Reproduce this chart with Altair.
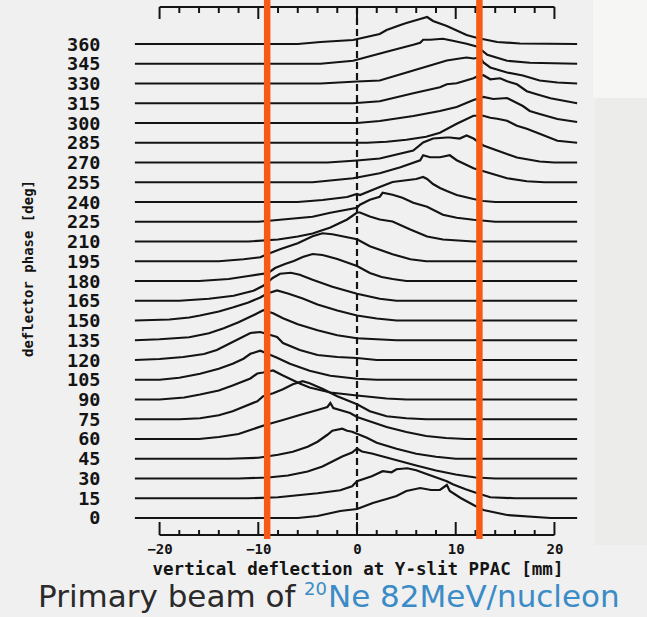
import altair as alt
import pandas as pd

# ---- data (x in mm, h = peak height in "counts") ----
phases = list(range(0, 361, 15))

trace_000 = [(-22.5,0),(-6,0),(-4,2),(-1.7,7),(0,9),(1.6,15),(3,19),(4,22),(5,27),(6.4,30),(7.5,28),(8.4,28),(9.1,33),(9.4,27),(10.5,20),(11.8,13),(12.8,8),(15.2,3),(19.6,0),(22.3,0)]
trace_015 = [(-22.5,0),(-11,0),(-8,1),(-6,3),(-4,5),(-1.7,8),(-0.5,12),(0,17),(1.5,22),(2.6,27),(3.5,26),(4,29),(5.1,30),(6,28),(7.4,23),(9.1,17),(9.7,14),(11,9),(12.2,5),(13.5,1),(16,0),(22.3,0)]
trace_030 = [(-22.5,0),(-12,0),(-9,1),(-7,3),(-5,7),(-3.5,12),(-2.5,17),(-1.5,22),(-0.5,26),(0,30),(0.5,27),(1.5,25),(3,21),(4.5,17),(6,13),(8,8),(10,4),(12,1),(14,0),(22.3,0)]
trace_045 = [(-22.5,0),(-13,0),(-10,1),(-8,4),(-6.5,7),(-5,12),(-4,17),(-3,24),(-2.5,28),(-1.5,30),(-1,28),(-0.5,27),(0,25),(1,21),(2,16),(4,10),(6,5),(8,2),(10,0),(22.3,0)]
trace_060 = [(-22.5,0),(-16,0),(-14,2),(-12,5),(-10.8,9),(-9.3,14),(-7.5,19),(-5.8,24),(-4,29),(-3,32),(-2.7,36),(-2.4,31),(-0.7,26),(0,22),(1.5,17),(3,12),(5,7),(7,3),(9,1),(11,0),(22.3,0)]
trace_075 = [(-22.5,0),(-18,0),(-15.9,1),(-14,4),(-12.6,8),(-10.1,18),(-9.5,23),(-8.5,26),(-7.5,30),(-6.5,35),(-5.5,38),(-4.8,36),(-3.4,30),(-2,23),(0,15),(1.3,8),(3,3),(5,1),(7,0),(22.3,0)]
trace_090 = [(-22.5,0),(-20,0),(-17.5,2),(-15.9,5),(-14,9),(-12.6,14),(-10.8,21),(-10.1,26),(-9.5,27),(-8.5,29),(-7.5,24),(-5.8,16),(-4.8,12),(-2.7,7),(0,4),(3,1),(5,0),(22.3,0)]
trace_105 = [(-22.5,0),(-20,0),(-18,2),(-15.9,6),(-14,11),(-12.6,16),(-11.5,21),(-10.8,26),(-9.8,29),(-9.3,27),(-8.1,22),(-6.8,16),(-4.8,9),(-2.7,4),(0,1),(2,0),(22.3,0)]
trace_120 = [(-22.5,0),(-20,1),(-17.6,3),(-15.5,6),(-14.2,10),(-12.6,18),(-10.8,27),(-9.8,28),(-8.1,23),(-7.5,17),(-5.8,10),(-4,5),(-2,3),(0,2),(2,0),(22.3,0)]
trace_135 = [(-22.5,0),(-20,1),(-17,3),(-15,7),(-13.5,12),(-12,18),(-10.5,25),(-9.5,30),(-8.5,27),(-7.5,22),(-6,16),(-4,10),(-2,5),(0,2),(2,1),(4,0),(22.3,0)]
trace_150 = [(-22.5,0),(-19,1),(-17,3),(-15.9,5),(-14,9),(-12.6,13),(-11,18),(-9.8,23),(-9.1,27),(-8.1,30),(-7,27),(-5.5,22),(-4,16),(-2,10),(0,5),(2,2),(4,0),(22.3,0)]
trace_165 = [(-22.5,0),(-18,0),(-15,2),(-12.5,5),(-10.5,10),(-9.5,15),(-8.5,23),(-7.8,27),(-6.7,28),(-5.8,26),(-4.5,21),(-2.5,14),(0,7),(2.3,2),(4,0),(22.3,0)]
trace_180 = [(-22.5,0),(-16,0),(-13,2),(-11,5),(-9,8),(-8.3,13),(-7.3,17),(-6.4,20),(-5.5,24),(-4.5,27),(-3.5,26),(-2,22),(0,15),(1.3,8),(2.5,4),(3.6,2),(5,0),(22.3,0)]
trace_195 = [(-22.5,0),(-14,0),(-11.5,2),(-9.8,4),(-9.1,7),(-7.8,12),(-6,18),(-4.5,25),(-3.5,28),(-2.5,27),(-1.5,25),(0,22),(1.3,15),(3.6,7),(5.4,2),(7,0),(22.3,0)]
trace_210 = [(-22.5,0),(-11,0),(-8,2),(-6,5),(-4.5,8),(-2.7,14),(-1,22),(0,29),(0.3,29),(1.3,25),(2.3,22),(3.6,20),(5.4,12),(7.1,5),(8.7,2),(11.8,0),(22.3,0)]
trace_225 = [(-22.5,0),(-10,0),(-7.8,2),(-4.5,5),(-2.7,9),(0,14),(0.3,17),(1.3,22),(2.3,25),(2.6,29),(3.6,27),(4.6,24),(5.7,19),(7.1,15),(8.7,7),(10.1,4),(11.8,2),(14,0),(22.3,0)]
trace_240 = [(-22.5,0),(-6,0),(-3.5,2),(-1,5),(0,8),(0.3,7),(2.3,15),(3.6,20),(6,23),(6.7,25),(7.1,23),(7.7,18),(8.4,14),(9.1,11),(10.1,7),(11.8,3),(12.8,1),(14,0),(22.3,0)]
trace_255 = [(-22.5,0),(-4.5,0),(-0.4,4),(2.3,9),(4.4,15),(6.4,22),(6.7,27),(7.4,25),(8.4,25),(9.4,27),(10.1,22),(11.8,14),(13.5,9),(15.2,4),(17.2,1),(19,0),(22.3,0)]
trace_270 = [(-22.5,0),(-3,0),(0,2),(2.3,4),(5.7,12),(6.7,20),(7.7,24),(9.1,25),(9.4,25),(10.4,24),(11.1,27),(11.8,24),(12.8,17),(14.2,12),(16.2,5),(18.5,1),(20,0),(22.3,0)]
trace_285 = [(-22.5,0),(1,0),(3,1),(5,3),(7,6),(8.4,10),(10.1,19),(11.8,27),(12.8,27),(13.5,25),(14.2,24),(15.2,22),(16.2,17),(17.2,14),(18.5,9),(20.3,2),(22.3,0)]
trace_300 = [(-22.5,0),(0,0),(2.3,2),(5.7,7),(8.4,12),(10.1,16),(11.8,23),(12.8,26),(13.8,24),(15.2,25),(15.8,22),(16.8,17),(17.5,12),(18.5,9),(20.3,4),(22.3,1)]
trace_315 = [(-22.5,0),(-0.4,0),(2.3,2),(5.7,10),(8.4,16),(9.1,19),(10.1,20),(11.8,25),(12.2,27),(12.8,28),(13.5,24),(14.5,25),(15.2,22),(16.2,19),(17.2,12),(18.2,9),(19.6,5),(22.3,0)]
trace_330 = [(-22.5,0),(-3.7,0),(0,2),(2.3,3),(5.7,13),(9.1,23),(10.4,25),(11.1,26),(11.8,25),(12.5,26),(12.8,21),(13.5,16),(15.2,11),(16.8,8),(18.5,3),(20.3,1),(22.3,0)]
trace_345 = [(-22.5,0),(-3.7,0),(-0.4,3),(3,12),(5.7,19),(6.4,21),(6.7,24),(7.4,24),(8.7,25),(9.2,24),(9.7,23),(11.1,20),(12.2,17),(13.2,9),(15.2,3),(17.5,1),(22.3,0)]
trace_360 = [(-22.5,0),(-6,0),(-3.7,2),(-0.4,4),(2.3,10),(3,14),(4.4,19),(5,21),(6.4,25),(7.1,27),(7.7,23),(9.1,18),(11.1,9),(12.2,6),(14.2,2),(16.5,0.5),(22.3,0)]

traces = [trace_000, trace_015, trace_030, trace_045, trace_060, trace_075, trace_090,
          trace_105, trace_120, trace_135, trace_150, trace_165, trace_180, trace_195,
          trace_210, trace_225, trace_240, trace_255, trace_270, trace_285, trace_300,
          trace_315, trace_330, trace_345, trace_360]

slit_lines = [-9.1, 12.4]          # orange markers (mm)
major_ticks = [-20, -10, 0, 10, 20]
minor_ticks = [-18, -16, -14, -12, -8, -6, -4, -2, 2, 4, 6, 8, 12, 14, 16, 18]
phase_labels = list(range(0, 361, 15))

COUNT_TO_DEG = 15 / 19.75  # vertical size of one count in phase units

rows = []
for ph, tr in zip(phases, traces):
    for i, (xv, hv) in enumerate(tr):
        rows.append({"phase": ph, "x": xv, "y": ph + hv * COUNT_TO_DEG, "i": i})
df = pd.DataFrame(rows)

W, H = 445, 540
XDOM = [-22.49, 22.59]
YDOM = [-16.71, 393.42]
MONO = "DejaVu Sans Mono"
INK = "#141414"

xscale = alt.Scale(domain=XDOM, nice=False, zero=False)
yscale = alt.Scale(domain=YDOM, nice=False, zero=False)

lines = alt.Chart(df).mark_line(color=INK, strokeWidth=2.2, interpolate="linear").encode(
    x=alt.X("x:Q", scale=xscale,
            axis=alt.Axis(values=major_ticks, ticks=False, domain=False, grid=False,
                          labelFont=MONO, labelFontWeight="bold", labelFontSize=14,
                          labelColor=INK, labelPadding=2, format="d",
                          title="vertical deflection at Y-slit PPAC [mm]",
                          titleFont=MONO, titleFontWeight="bold", titleFontSize=17.5,
                          titleColor=INK, titleY=29, titleBaseline="middle")),
    y=alt.Y("y:Q", scale=yscale,
            axis=alt.Axis(values=phase_labels, ticks=False, domain=False, grid=False,
                          labelFont=MONO, labelFontWeight="bold", labelFontSize=18.5,
                          labelColor=INK, labelPadding=35,
                          title="deflector phase [deg]",
                          titleFont=MONO, titleFontWeight="bold", titleFontSize=14,
                          titleColor=INK, titleX=-107, titleY=268,
                          titleBaseline="middle", titleAlign="center")),
    detail="phase:N",
    order="i:Q",
)

zero_df = pd.DataFrame({"x": [0]})
dashed = alt.Chart(zero_df).mark_rule(color=INK, strokeWidth=2.2, strokeDash=[7, 4]).encode(
    x=alt.X("x:Q", scale=xscale), y=alt.value(7), y2=alt.value(535))

frame_df = pd.DataFrame({"x": [major_ticks[0]], "x2": [major_ticks[-1]]})
bottom_line = alt.Chart(frame_df).mark_rule(color=INK, strokeWidth=2).encode(
    x=alt.X("x:Q", scale=xscale), x2="x2:Q", y=alt.value(535))
top_line = alt.Chart(frame_df).mark_rule(color=INK, strokeWidth=2).encode(
    x=alt.X("x:Q", scale=xscale), x2="x2:Q", y=alt.value(7))

maj_df = pd.DataFrame({"x": major_ticks})
min_df = pd.DataFrame({"x": minor_ticks})
maj_bottom = alt.Chart(maj_df).mark_rule(color=INK, strokeWidth=2).encode(
    x=alt.X("x:Q", scale=xscale), y=alt.value(522), y2=alt.value(535))
min_bottom = alt.Chart(min_df).mark_rule(color=INK, strokeWidth=2).encode(
    x=alt.X("x:Q", scale=xscale), y=alt.value(530), y2=alt.value(535))
maj_top = alt.Chart(maj_df).mark_rule(color=INK, strokeWidth=2).encode(
    x=alt.X("x:Q", scale=xscale), y=alt.value(7), y2=alt.value(19))
min_top = alt.Chart(min_df).mark_rule(color=INK, strokeWidth=2).encode(
    x=alt.X("x:Q", scale=xscale), y=alt.value(7), y2=alt.value(13))

slit_df = pd.DataFrame({"x": slit_lines})
orange = alt.Chart(slit_df).mark_rule(color="#f85a16", strokeWidth=6.5).encode(
    x=alt.X("x:Q", scale=xscale), y=alt.value(0), y2=alt.value(539))

# subtle paper tones at the right edge of the scanned figure
tone_upper = alt.Chart(pd.DataFrame({"k": ["upper"]})).mark_rect(color="#f6f6f5").encode(
    x=alt.value(458), x2=alt.value(512), y=alt.value(0), y2=alt.value(98))
tone_lower = alt.Chart(pd.DataFrame({"k": ["lower"]})).mark_rect(color="#ececeb").encode(
    x=alt.value(460), x2=alt.value(512), y=alt.value(98), y2=alt.value(545))

cap1 = alt.Chart(pd.DataFrame({"t": ["Primary beam of"]})).mark_text(
    align="left", baseline="alphabetic", font="DejaVu Sans", fontSize=31, color="#2a2a2a").encode(
    text="t:N", x=alt.value(-97), y=alt.value(607))
cap2 = alt.Chart(pd.DataFrame({"t": ["20"]})).mark_text(
    align="left", baseline="alphabetic", font="DejaVu Sans", fontSize=18, color="#3b8cc6").encode(
    text="t:N", x=alt.value(169), y=alt.value(595))
cap3 = alt.Chart(pd.DataFrame({"t": ["Ne 82MeV/nucleon"]})).mark_text(
    align="left", baseline="alphabetic", font="DejaVu Sans", fontSize=31, color="#3b8cc6").encode(
    text="t:N", x=alt.value(193), y=alt.value(607))

chart = alt.layer(
    tone_upper, tone_lower,
    dashed, lines, bottom_line, top_line, maj_bottom, min_bottom, maj_top, min_top,
    orange, cap1, cap2, cap3
).properties(
    width=W, height=H,
    padding={"left": 135, "top": 0, "right": 67, "bottom": 77},
    autosize=alt.AutoSizeParams(type="none"),
    background="#f0f0f0",
).configure_view(stroke=None)

chart.save("out.html", embed_options={"renderer": "svg", "actions": False})
